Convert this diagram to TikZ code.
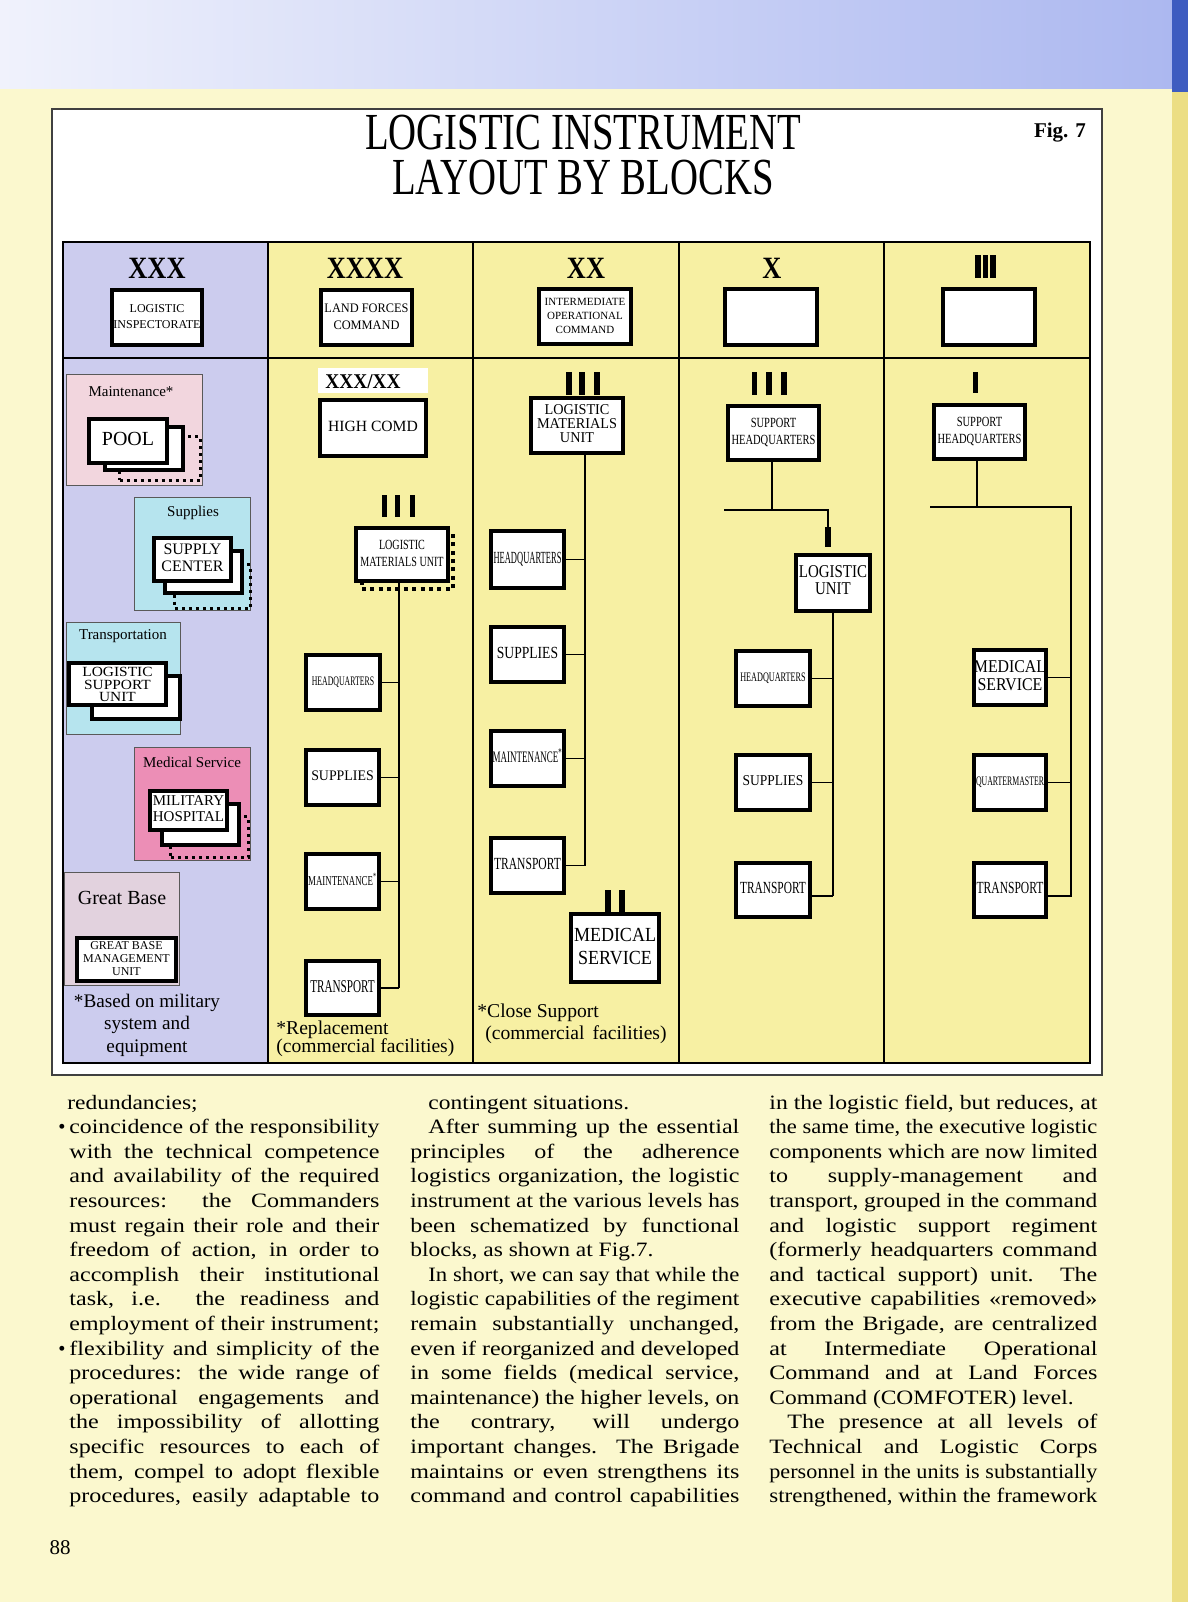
\documentclass[tikz,border=0pt]{standalone}
\usepackage{fontspec}
\setmainfont{Liberation Serif}
\usepackage{graphicx}
\usetikzlibrary{calc}
\definecolor{pageyellow}{RGB}{251,248,206}
\definecolor{lav}{RGB}{204,204,238}
\definecolor{cellyel}{RGB}{247,240,163}
\definecolor{maintpink}{RGB}{242,214,222}
\definecolor{supcyan}{RGB}{182,228,238}
\definecolor{medpink}{RGB}{236,142,182}
\definecolor{gbpink}{RGB}{226,210,222}
\definecolor{bandL}{RGB}{240,242,252}
\definecolor{bandR}{RGB}{172,184,240}
\definecolor{edgeblue}{RGB}{62,92,192}
\definecolor{edgeyel}{RGB}{236,222,132}
\newlength\jlw
% justified line: widen glyphs up to 1.18, then stretch interword spaces
\newcommand\jl[2]{\settowidth\jlw{#2}\pgfmathsetmacro\jlr{min(#1/\the\jlw,1.18)}\pgfmathsetmacro\jlW{#1/\jlr}\scalebox{\jlr}[1]{\makebox[\jlW pt][s]{#2}}}
\newcommand\pl[1]{\scalebox{1.15}[1]{#1}}
\newcommand\bt[4]{\scalebox{#1}[1]{\fontsize{#2}{#3}\selectfont\begin{tabular}{@{}c@{}}#4\end{tabular}}}
\newcommand\BOX[7][]{%
  \pgfmathsetmacro\BXcx{(#3+#5)/2}%
  \pgfmathsetmacro\BXcy{(#4+#6)/2}%
  \pgfmathsetmacro\BXw{(#5-#3)/2-1.8}%
  \pgfmathsetmacro\BXh{(#6-#4)/2-1.8}%
  \node[ubox,minimum width=\BXw pt,minimum height=\BXh pt,#1] (#2) at (\BXcx,\BXcy) {#7};}
\newcommand\BL[5]{\node[body] (#1) at (#2,#3) {\jl{#4}{#5}};}
\begin{document}
\begin{tikzpicture}[x=0.5pt,y=-0.5pt,
  ubox/.style={draw=black, line width=1.8pt, fill=white, inner sep=0pt},
  bgbox/.style={draw=black!65, line width=0.6pt},
  dotbox/.style={draw=black, fill=none, line width=1.5pt, dash pattern=on 1.5pt off 2pt},
  dotboxb/.style={draw=black, fill=none, line width=2pt, dash pattern=on 2pt off 2.2pt},
  conn/.style={line width=0.9pt},
  bar/.style={fill=black},
  lvl/.style={font=\bfseries\fontsize{15.5}{16}\selectfont, inner sep=0pt},
  lab/.style={font=\fontsize{7.5}{8}\selectfont, inner sep=0pt},
  body/.style={anchor=base west, inner sep=0pt, font=\fontsize{10.2}{12}\selectfont},
]
\useasboundingbox (0,0) rectangle (1188,1602);
% page
\fill[pageyellow] (0,0) rectangle (1188,1602);
\shade[left color=bandL, right color=bandR] (0,0) rectangle (1172,88);
\fill[edgeblue] (1172,0) rectangle (1188,92);
\fill[edgeyel] (1172,92) rectangle (1188,1602);
% frame
\draw[black!75, line width=0.7pt, fill=white] (52,109) rectangle (1102,1075);
\node[font=\fontsize{26}{22.5}\selectfont, align=center, inner sep=0pt] (title) at (583,155) {\scalebox{0.745}[1]{LOGISTIC INSTRUMENT}\\\scalebox{0.745}[1]{LAYOUT BY BLOCKS}};
\node[font=\bfseries\fontsize{10.5}{12}\selectfont, inner sep=0pt] (fig) at (1060,133) {Fig. 7};
% table
\fill[lav] (63,242) rectangle (268,1063);
\fill[cellyel] (268,242) rectangle (1090,1063);
\draw[line width=0.9pt] (63,242) rectangle (1090,1063);
\draw[line width=0.9pt] (63,358) -- (1090,358);
\foreach \x in {268,473,679,884} \draw[line width=0.9pt] (\x,242) -- (\x,1063);
% level symbols top row
\node[lvl] (s1) at (157,268) {\scalebox{0.85}[1]{XXX}};
\node[lvl] (s2) at (365,268) {\scalebox{0.85}[1]{XXXX}};
\node[lvl] (s3) at (586,268) {\scalebox{0.85}[1]{XX}};
\node[lvl] (s4) at (772,268) {\scalebox{0.85}[1]{X}};
\fill[bar] (975,255) rectangle (981,278);
\fill[bar] (983,255) rectangle (988,278);
\fill[bar] (990,255) rectangle (996,278);
% top row boxes
\BOX{li}{110}{288}{204}{347}{\bt{1}{6}{8}{LOGISTIC\\INSPECTORATE}}
\BOX{lfc}{319}{288}{414}{347}{\bt{0.95}{6.5}{8.5}{LAND FORCES\\COMMAND}}
\BOX{ioc}{537}{287}{633}{346}{\bt{1}{5.5}{7}{INTERMEDIATE\\OPERATIONAL\\COMMAND}}
\BOX{xb}{723}{287}{819}{347}{}
\BOX{iiib}{941}{287}{1037}{347}{}
% ---------- column 1 ----------
\BOX[bgbox, fill=maintpink]{mbg}{65}{373}{204}{487}{}
\node[lab] (mlab) at (131,392) {Maintenance*};
\BOX[dotbox]{pd}{118}{435}{202}{482}{}
\BOX{pb}{103}{425}{185}{472}{}
\BOX{pf}{87}{417}{169}{465}{\bt{1}{10}{11}{POOL}}
\BOX[bgbox, fill=supcyan]{sbg}{133}{496}{252}{612}{}
\node[lab] (slab) at (193,513) {Supplies};
\BOX[dotbox]{sd}{173}{563}{252}{610}{}
\BOX{sb}{163}{549}{244}{595}{}
\BOX{sf}{152}{536}{233}{583}{\bt{1}{8}{8.5}{SUPPLY\\CENTER}}
\BOX[bgbox, fill=supcyan]{tbg}{65}{621}{182}{736}{}
\node[lab] (tlab) at (123,636) {Transportation};
\BOX{tb}{90}{674}{182}{721}{}
\BOX{tf}{67}{661}{168}{707}{}
\node[inner sep=0pt] (tft) at ([yshift=-1.1pt]tf.center) {\bt{1.1}{7}{6}{LOGISTIC\\SUPPORT\\UNIT}};
\BOX[bgbox, fill=medpink]{hbg}{133}{746}{252}{862}{}
\node[lab] (hlab) at (192,762) {Medical Service};
\BOX[dotbox]{hd}{169}{815}{250}{859}{}
\BOX{hb}{160}{802}{241}{847}{}
\BOX{hf}{148}{789}{229}{832}{\bt{1}{7.5}{8}{MILITARY\\HOSPITAL}}
\BOX[bgbox, fill=gbpink]{gbg}{63}{871}{181}{987}{}
\node[font=\fontsize{10}{11}\selectfont, inner sep=0pt] (glab) at (122,898) {Great Base};
\BOX{gbm}{75}{936}{178}{983}{\bt{1}{6}{6.5}{GREAT BASE\\MANAGEMENT\\UNIT}}
\node[font=\fontsize{9.6}{11.25}\selectfont, align=center, inner sep=0pt] (n1) at (147,1025) {*Based on military\\system and\\equipment};
% ---------- column 2 ----------
\fill[white] (318,368) rectangle (428,393);
\node[font=\bfseries\fontsize{10.5}{12}\selectfont, inner sep=0pt] (s2b) at (363,382) {\scalebox{0.92}[1]{XXX/XX}};
\BOX{hc}{318}{398}{428}{458}{\bt{1}{7.8}{9}{HIGH COMD}}
\fill[bar] (382,495) rectangle (387,517);
\fill[bar] (395,495) rectangle (400,517);
\fill[bar] (410,495) rectangle (415,517);
\BOX[dotboxb]{lmd}{360}{532}{455}{591}{}
\BOX{lmu2}{354}{526}{450}{583}{\bt{0.72}{7}{8.5}{LOGISTIC\\MATERIALS UNIT}}
\BOX{hq2}{304}{653}{382}{712}{\bt{0.6}{6.5}{7}{HEADQUARTERS}}
\BOX{sup2}{304}{748}{381}{807}{\bt{0.95}{7.3}{8}{SUPPLIES}}
\BOX{mnt2}{304}{852}{381}{911}{\bt{0.65}{6.8}{7}{MAINTENANCE\textsuperscript{*}}}
\BOX{tr2}{304}{959}{381}{1017}{\bt{0.62}{9}{10}{TRANSPORT}}
\coordinate (bus2) at (399,583);
\draw[conn] (bus2) -- (bus2 |- tr2.east);
\foreach \b in {hq2,sup2,mnt2,tr2} \draw[conn] (\b.east) -- (\b.east -| bus2);
\node[font=\fontsize{9.8}{9}\selectfont, align=left, anchor=west, inner sep=0pt] (n2) at (276,1039) {*Replacement\\(commercial facilities)};
% ---------- column 3 ----------
\fill[bar] (566,372) rectangle (572,395);
\fill[bar] (579,372) rectangle (585,395);
\fill[bar] (594,372) rectangle (600,395);
\BOX{lmu3}{529}{396}{625}{455}{\bt{0.95}{7.5}{6.5}{LOGISTIC\\MATERIALS\\UNIT}}
\BOX{hq3}{489}{529}{566}{590}{\bt{0.5}{8.5}{9}{HEADQUARTERS}}
\BOX{sup3}{489}{625}{566}{684}{\bt{0.8}{8.5}{9}{SUPPLIES}}
\BOX{mnt3}{489}{729}{566}{788}{\bt{0.56}{8}{9}{MAINTENANCE\textsuperscript{*}}}
\BOX{tr3}{489}{836}{566}{895}{\bt{0.68}{8.5}{9}{TRANSPORT}}
\coordinate (bus3) at (585,455);
\draw[conn] (bus3) -- (bus3 |- tr3.east);
\foreach \b in {hq3,sup3,mnt3,tr3} \draw[conn] (\b.east) -- (\b.east -| bus3);
\fill[bar] (605,890) rectangle (611,912);
\fill[bar] (619,890) rectangle (625,912);
\BOX{ms3}{569}{912}{661}{984}{\bt{0.9}{10}{11.5}{MEDICAL\\SERVICE}}
\node[font=\fontsize{9.8}{11}\selectfont, anchor=west, inner sep=0pt] (n3a) at (477,1013) {*Close Support};
\node[font=\fontsize{9.8}{11}\selectfont, anchor=west, inner sep=0pt] (n3b) at (485,1035) {(commercial\, facilities)};
% ---------- column 4 ----------
\fill[bar] (752,372) rectangle (757,395);
\fill[bar] (766,372) rectangle (772,395);
\fill[bar] (781,372) rectangle (787,395);
\BOX{sh4}{726}{404}{821}{462}{\bt{0.75}{7}{8.5}{SUPPORT\\HEADQUARTERS}}
\coordinate (j4) at (772,510);
\coordinate (j4l) at (724,510);
\coordinate (j4r) at (828,510);
\coordinate (j4d) at (828,527);
\draw[conn] (sh4.south -| j4) -- (j4);
\draw[conn] (j4l) -- (j4r) -- (j4d);
\fill[bar] (825,527) rectangle (831,547);
\BOX{lu4}{794}{553}{872}{613}{\bt{0.83}{9}{8.5}{LOGISTIC\\UNIT}}
\BOX{hq4}{734}{649}{812}{708}{\bt{0.63}{6.5}{7}{HEADQUARTERS}}
\BOX{sup4}{734}{753}{812}{812}{\bt{0.9}{7.5}{8}{SUPPLIES}}
\BOX{tr4}{734}{861}{812}{919}{\bt{0.67}{8.5}{9}{TRANSPORT}}
\coordinate (bus4) at (lu4.south);
\coordinate (tr4c) at ([yshift=-3pt]tr4.east);
\draw[conn] (bus4) -- (bus4 |- tr4c);
\foreach \b in {hq4,sup4} \draw[conn] (\b.east) -- (\b.east -| bus4);
\draw[conn] (tr4c) -- (tr4c -| bus4);
% ---------- column 5 ----------
\fill[bar] (973,372) rectangle (978,393);
\BOX{sh5}{932}{403}{1027}{461}{\bt{0.75}{7}{8.5}{SUPPORT\\HEADQUARTERS}}
\coordinate (j5) at (977,507);
\coordinate (j5l) at (930,507);
\coordinate (j5r) at (1071,507);
\draw[conn] (sh5.south -| j5) -- (j5);
\BOX{ms5}{972}{648}{1048}{707}{\bt{0.88}{9}{9}{MEDICAL\\SERVICE}}
\BOX{qm5}{972}{753}{1048}{812}{\bt{0.6}{6.5}{7}{QUARTERMASTER}}
\BOX{tr5}{972}{861}{1048}{919}{\bt{0.68}{8.5}{9}{TRANSPORT}}
\coordinate (tr5c) at ([yshift=-3pt]tr5.east);
\draw[conn] (j5l) -- (j5r) -- (j5r |- tr5c) -- (tr5c);
\foreach \b in {ms5,qm5} \draw[conn] (\b.east) -- (\b.east -| j5r);
% ---------- body text ----------
% column 1
\node[body] (a1) at (67,1109) {\pl{redundancies;}};
\node[body] (ab1) at (58,1133.6) {•};
\BL{a2}{69}{1133.6}{155pt}{coincidence of the responsibility}
\BL{a3}{69}{1158.2}{155pt}{with the technical competence}
\BL{a4}{69}{1182.8}{155pt}{and availability of the required}
\BL{a5}{69}{1207.4}{155pt}{resources: the Commanders}
\BL{a6}{69}{1232}{155pt}{must regain their role and their}
\BL{a7}{69}{1256.6}{155pt}{freedom of action, in order to}
\BL{a8}{69}{1281.2}{155pt}{accomplish their institutional}
\BL{a9}{69}{1305.8}{155pt}{task, i.e. the readiness and}
\BL{a10}{69}{1330.4}{155pt}{employment of their instrument;}
\node[body] (ab2) at (58,1355) {•};
\BL{a11}{69}{1355}{155pt}{flexibility and simplicity of the}
\BL{a12}{69}{1379.6}{155pt}{procedures: the wide range of}
\BL{a13}{69}{1404.2}{155pt}{operational engagements and}
\BL{a14}{69}{1428.8}{155pt}{the impossibility of allotting}
\BL{a15}{69}{1453.4}{155pt}{specific resources to each of}
\BL{a16}{69}{1478}{155pt}{them, compel to adopt flexible}
\BL{a17}{69}{1502.6}{155pt}{procedures, easily adaptable to}
% column 2
\node[body] (b1) at (428,1109) {\pl{contingent situations.}};
\BL{b2}{428}{1133.6}{155.5pt}{After summing up the essential}
\BL{b3}{410}{1158.2}{164.5pt}{principles of the adherence}
\BL{b4}{410}{1182.8}{164.5pt}{logistics organization, the logistic}
\BL{b5}{410}{1207.4}{164.5pt}{instrument at the various levels has}
\BL{b6}{410}{1232}{164.5pt}{been schematized by functional}
\node[body] (b7) at (410,1256.6) {\pl{blocks, as shown at Fig.7.}};
\BL{b8}{428}{1281.2}{155.5pt}{In short, we can say that while the}
\BL{b9}{410}{1305.8}{164.5pt}{logistic capabilities of the regiment}
\BL{b10}{410}{1330.4}{164.5pt}{remain substantially unchanged,}
\BL{b11}{410}{1355}{164.5pt}{even if reorganized and developed}
\BL{b12}{410}{1379.6}{164.5pt}{in some fields (medical service,}
\BL{b13}{410}{1404.2}{164.5pt}{maintenance) the higher levels, on}
\BL{b14}{410}{1428.8}{164.5pt}{the contrary, will undergo}
\BL{b15}{410}{1453.4}{164.5pt}{important changes. The Brigade}
\BL{b16}{410}{1478}{164.5pt}{maintains or even strengthens its}
\BL{b17}{410}{1502.6}{164.5pt}{command and control capabilities}
% column 3
\BL{c1}{769}{1109}{164pt}{in the logistic field, but reduces, at}
\BL{c2}{769}{1133.6}{164pt}{the same time, the executive logistic}
\BL{c3}{769}{1158.2}{164pt}{components which are now limited}
\BL{c4}{769}{1182.8}{164pt}{to supply-management and}
\BL{c5}{769}{1207.4}{164pt}{transport, grouped in the command}
\BL{c6}{769}{1232}{164pt}{and logistic support regiment}
\BL{c7}{769}{1256.6}{164pt}{(formerly headquarters command}
\BL{c8}{769}{1281.2}{164pt}{and tactical support) unit. The}
\BL{c9}{769}{1305.8}{164pt}{executive capabilities «removed»}
\BL{c10}{769}{1330.4}{164pt}{from the Brigade, are centralized}
\BL{c11}{769}{1355}{164pt}{at Intermediate Operational}
\BL{c12}{769}{1379.6}{164pt}{Command and at Land Forces}
\node[body] (c13) at (769,1404.2) {\pl{Command (COMFOTER) level.}};
\BL{c14}{787}{1428.8}{155pt}{The presence at all levels of}
\BL{c15}{769}{1453.4}{164pt}{Technical and Logistic Corps}
\BL{c16}{769}{1478}{164pt}{personnel in the units is substantially}
\BL{c17}{769}{1502.6}{164pt}{strengthened, within the framework}
% page number
\node[font=\fontsize{10.5}{12}\selectfont, inner sep=0pt] (pg) at (60,1548) {88};
\end{tikzpicture}
\end{document}
